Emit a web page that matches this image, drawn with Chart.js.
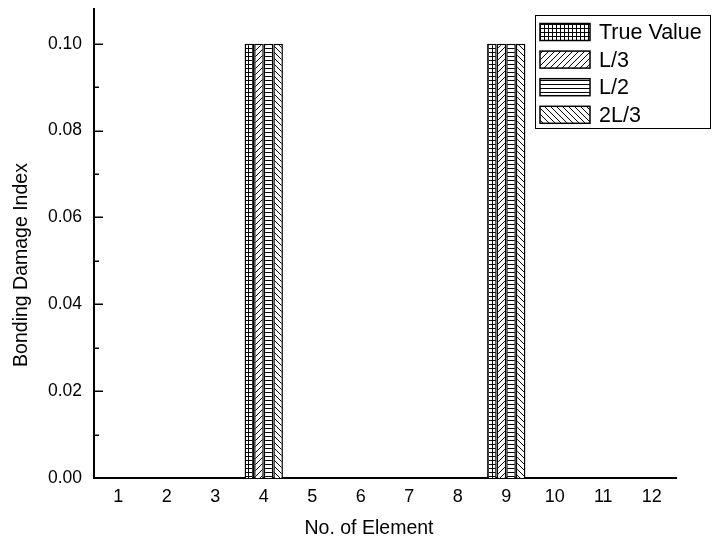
<!DOCTYPE html>
<html>
<head>
<meta charset="utf-8">
<script src="https://cdn.jsdelivr.net/npm/chart.js@4/dist/chart.umd.min.js"></script>
<style>
  html, body { margin: 0; padding: 0; background: #fff; }
  #wrap { width: 712px; height: 548px; }
</style>
</head>
<body>
<div id="wrap"><canvas id="c" width="712" height="548"></canvas></div>
<script>
// Element numbers along the beam
const elements = ['1', '2', '3', '4', '5', '6', '7', '8', '9', '10', '11', '12'];

// Bonding damage index per element for each sensor configuration
const trueValue = [0, 0, 0, 0.10, 0, 0, 0, 0, 0.10, 0, 0, 0];
const lThird    = [0, 0, 0, 0.10, 0, 0, 0, 0, 0.10, 0, 0, 0];
const lHalf     = [0, 0, 0, 0.10, 0, 0, 0, 0, 0.10, 0, 0, 0];
const twoLThird = [0, 0, 0, 0.10, 0, 0, 0, 0, 0.10, 0, 0, 0];

const seriesNames = ['True Value', 'L/3', 'L/2', '2L/3'];
const yTickValues = [0, 0.02, 0.04, 0.06, 0.08, 0.10];
const xAxisTitle = 'No. of Element';
const yAxisTitle = 'Bonding Damage Index';

const FONT = "'Liberation Sans', Arial, sans-serif";

// Hatch fills drawn on small tiles and repeated
function makePattern(kind) {
  const s = kind === 'grid' || kind === 'horiz' ? 4 : 6;
  const t = document.createElement('canvas');
  t.width = s; t.height = s;
  const g = t.getContext('2d');
  g.fillStyle = '#fff';
  g.fillRect(0, 0, s, s);
  g.strokeStyle = '#000';
  g.lineWidth = 1;
  g.beginPath();
  if (kind === 'grid') {
    g.moveTo(0.5, 0); g.lineTo(0.5, s);
    g.moveTo(0, 0.5); g.lineTo(s, 0.5);
  } else if (kind === 'horiz') {
    g.moveTo(0, 0.5); g.lineTo(s, 0.5);
  } else if (kind === 'fwd') {
    g.moveTo(-1, s + 1); g.lineTo(s + 1, -1);
    g.moveTo(-1, 1); g.lineTo(1, -1);
    g.moveTo(s - 1, s + 1); g.lineTo(s + 1, s - 1);
  } else {
    g.moveTo(-1, -1); g.lineTo(s + 1, s + 1);
    g.moveTo(s - 1, -1); g.lineTo(s + 1, 1);
    g.moveTo(-1, s - 1); g.lineTo(1, s + 1);
  }
  g.stroke();
  return g.createPattern(t, 'repeat');
}

const fills = [makePattern('grid'), makePattern('fwd'), makePattern('horiz'), makePattern('back')];
const seriesData = [trueValue, lThird, lHalf, twoLThird];

// Inward major/minor ticks on the value axis
const innerTicks = {
  id: 'innerTicks',
  afterDatasetsDraw(chart) {
    const { ctx } = chart;
    const y = chart.scales.y;
    const left = chart.chartArea.left;
    ctx.save();
    ctx.strokeStyle = '#000';
    ctx.lineWidth = 1.5;
    for (let i = 0; i <= 10; i++) {
      const v = i * 0.01;
      const py = Math.round(y.getPixelForValue(v)) + 0.25;
      const len = i % 2 === 0 ? 9 : 5;
      ctx.beginPath();
      ctx.moveTo(left, py);
      ctx.lineTo(left + len, py);
      ctx.stroke();
    }
    ctx.restore();
  }
};

// Axis titles, placed toward the lower-left like the page layout
const axisTitles = {
  id: 'axisTitles',
  afterDraw(chart) {
    const { ctx } = chart;
    ctx.save();
    ctx.fillStyle = '#000';
    ctx.font = '19.5px ' + FONT;
    ctx.textAlign = 'center';
    ctx.textBaseline = 'middle';
    ctx.fillText(xAxisTitle, 369, 529);
    ctx.translate(22, 265);
    ctx.rotate(-Math.PI / 2);
    ctx.fillText(yAxisTitle, 0, 0);
    ctx.restore();
  }
};

// Boxed legend in the upper right corner
const boxedLegend = {
  id: 'boxedLegend',
  afterDraw(chart) {
    const { ctx } = chart;
    const bx = 535, by = 15, bw = 175, bh = 113;
    ctx.save();
    ctx.fillStyle = '#fff';
    ctx.fillRect(bx, by, bw, bh);
    ctx.strokeStyle = '#000';
    ctx.lineWidth = 1;
    ctx.strokeRect(bx + 0.5, by + 0.5, bw, bh);
    ctx.font = '21.5px ' + FONT;
    ctx.textBaseline = 'middle';
    ctx.textAlign = 'left';
    chart.data.datasets.forEach((ds, i) => {
      const cy = 32 + i * 27.6;
      ctx.fillStyle = ds.backgroundColor;
      ctx.fillRect(540, cy - 8.5, 50, 17);
      ctx.lineWidth = 1.5;
      ctx.strokeStyle = '#000';
      ctx.strokeRect(540, cy - 8.5, 50, 17);
      ctx.fillStyle = '#000';
      ctx.fillText(ds.label, 599, cy + 1);
    });
    ctx.restore();
  }
};

new Chart(document.getElementById('c'), {
  type: 'bar',
  data: {
    labels: elements,
    datasets: seriesData.map((d, i) => ({
      label: seriesNames[i],
      data: d,
      backgroundColor: fills[i],
      borderColor: '#000',
      borderWidth: 1.5,
      borderSkipped: 'bottom'
    }))
  },
  options: {
    responsive: false,
    animation: false,
    events: [],
    layout: { padding: { top: 9, right: 36, left: 0, bottom: 0 } },
    datasets: {
      bar: { categoryPercentage: 0.79, barPercentage: 1.0 }
    },
    plugins: {
      legend: { display: false },
      tooltip: { enabled: false }
    },
    scales: {
      x: {
        grid: { display: false, drawTicks: false },
        border: { display: true, color: '#000', width: 2 },
        ticks: {
          color: '#000',
          padding: 8,
          maxRotation: 0,
          font: { family: FONT, size: 18 }
        },
        afterFit(scale) {
          scale.height = 70;
          scale.paddingLeft = 0;
          scale.paddingRight = 0;
        }
      },
      y: {
        min: 0,
        max: 0.108,
        grid: { display: false, drawTicks: false },
        border: { display: true, color: '#000', width: 2 },
        ticks: {
          color: '#000',
          padding: 12,
          font: { family: FONT, size: 17.5 },
          callback: (v) => v.toFixed(2)
        },
        afterBuildTicks(scale) {
          scale.ticks = yTickValues.map(v => ({ value: v }));
        },
        afterFit(scale) {
          scale.width = 94;
          scale.paddingTop = 0;
          scale.paddingBottom = 0;
        }
      }
    }
  },
  plugins: [innerTicks, axisTitles, boxedLegend]
});
</script>
</body>
</html>
